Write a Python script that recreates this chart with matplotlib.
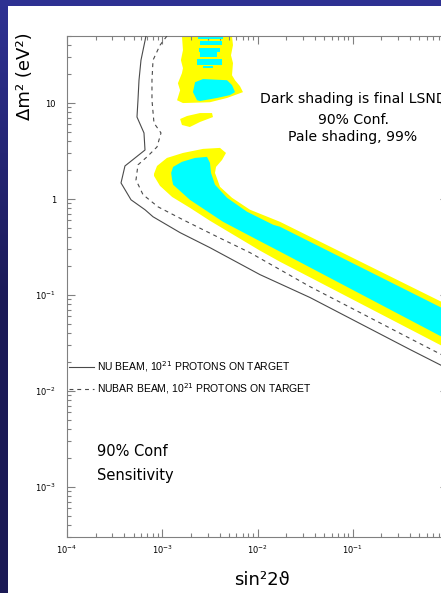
import numpy as np
import matplotlib
matplotlib.use("Agg")
import matplotlib.pyplot as plt
from matplotlib.patches import Rectangle
from matplotlib.colors import LinearSegmentedColormap
from matplotlib.lines import Line2D
from matplotlib.ticker import NullFormatter

# 90% CL sensitivity curves, (sin^2 2theta, dm^2 [eV^2])
nu_beam = [(6.75e-4, 50), (5.98e-4, 28.0), (5.70e-4, 17.3), (5.56e-4, 10.7),
           (5.43e-4, 7.15), (6.43e-4, 4.88), (6.59e-4, 3.24), (4.06e-4, 2.21),
           (3.69e-4, 1.47), (4.70e-4, 0.981), (6.59e-4, 0.773), (8.0e-4, 0.653),
           (1.54e-3, 0.446), (3.17e-3, 0.311), (1.06e-2, 0.163), (3.56e-2, 0.094),
           (0.119, 0.0504), (0.399, 0.027), (0.845, 0.0185), (1.0, 0.0169)]
nubar_beam = [(1.12e-3, 50), (9.47e-4, 40.1), (8.0e-4, 28.0), (7.8e-4, 17.3),
              (7.8e-4, 10.7), (8.19e-4, 6.19), (9.70e-4, 4.88), (8.81e-4, 3.49),
              (6.92e-4, 2.75), (5.56e-4, 2.27), (5.30e-4, 1.58), (6.28e-4, 1.11),
              (9.02e-4, 0.829), (1.65e-3, 0.608), (3.76e-3, 0.405), (8.34e-3, 0.276),
              (3.56e-2, 0.122), (0.119, 0.0656), (0.399, 0.0352), (0.845, 0.024),
              (1.0, 0.0218)]

# LSND allowed regions: 99% (pale) and 90% (dark)
band99 = [(8.19e-4, 1.83), (8.81e-4, 2.21), (1.12e-3, 2.68), (1.65e-3, 3.02),
          (2.68e-3, 3.33), (4.04e-3, 3.41), (4.67e-3, 3.02), (4.24e-3, 2.55),
          (3.67e-3, 2.16), (3.58e-3, 1.87), (4.04e-3, 1.34), (5.40e-3, 1.03),
          (8.34e-3, 0.773), (1.72e-2, 0.579), (0.845, 0.0853), (1.0, 0.078),
          (1.0, 0.0275), (0.845, 0.0298), (1.72e-2, 0.222), (1.06e-2, 0.290),
          (5.81e-3, 0.414), (3.17e-3, 0.593), (1.95e-3, 0.81), (1.27e-3, 1.05),
          (9.47e-4, 1.37), (8.19e-4, 1.74)]
band90 = [(1.24e-3, 1.87), (1.30e-3, 2.16), (1.61e-3, 2.44), (2.21e-3, 2.68),
          (2.95e-3, 2.75), (3.17e-3, 2.38), (3.25e-3, 1.87), (3.58e-3, 1.41),
          (4.79e-3, 1.03), (7.76e-3, 0.737), (1.46e-2, 0.539), (1.72e-2, 0.514),
          (0.845, 0.074), (1.0, 0.068), (1.0, 0.034), (0.845, 0.037),
          (1.72e-2, 0.283), (9.88e-3, 0.377), (4.34e-3, 0.579), (1.95e-3, 0.981),
          (1.30e-3, 1.41), (1.27e-3, 1.58)]
high99 = [(1.61e-3, 50), (1.65e-3, 35.6), (1.57e-3, 28.0), (1.65e-3, 23.1),
          (1.61e-3, 20.5), (1.46e-3, 16.1), (1.54e-3, 13.6), (1.43e-3, 10.7),
          (1.65e-3, 10.0), (3.17e-3, 10.2), (4.79e-3, 11.3), (7.04e-3, 13.0),
          (6.55e-3, 15.0), (5.81e-3, 17.3), (5.40e-3, 19.5), (5.53e-3, 26.1),
          (5.27e-3, 31.5), (5.53e-3, 40.1), (5.40e-3, 50)]
mid99 = [(1.54e-3, 6.82), (1.61e-3, 5.91), (1.95e-3, 5.63), (2.49e-3, 6.35),
         (3.41e-3, 7.15), (3.33e-3, 7.87), (2.49e-3, 7.87), (1.82e-3, 7.33)]
high90 = [(2.21e-3, 16.5), (2.68e-3, 17.8), (4.79e-3, 17.3), (5.40e-3, 15.4),
          (5.81e-3, 13.0), (5.14e-3, 12.1), (3.76e-3, 11.3), (2.49e-3, 10.5),
          (2.32e-3, 10.7), (2.10e-3, 13.0)]
# thin 90% strips at high dm^2: (s2t_lo, s2t_hi, dm2_lo, dm2_hi)
strips90 = [(2.37e-3, 4.34e-3, 46.3, 50.0), (2.49e-3, 4.24e-3, 40.1, 44.0),
            (2.43e-3, 4.04e-3, 33.9, 37.3), (2.49e-3, 3.76e-3, 30.1, 33.9),
            (2.32e-3, 4.24e-3, 24.9, 28.7), (2.68e-3, 3.41e-3, 23.1, 24.3)]

xticks = [1e-4, 1e-3, 1e-2, 1e-1]
xticklabels = [r"$10^{-4}$", r"$10^{-3}$", r"$10^{-2}$", r"$10^{-1}$"]
yticks = [1e-3, 1e-2, 1e-1, 1, 10]
yticklabels = [r"$10^{-3}$", r"$10^{-2}$", r"$10^{-1}$", "1", "10"]

YELLOW = "#ffff00"
CYAN = "#00ffff"
LINE = "#4a4a4a"
FRAME = "#808080"

W, H = 441, 593
fig = plt.figure(figsize=(W / 100, H / 100), dpi=100)
fig.patch.set_facecolor("white")

# blue slide border (top strip + shaded left strip)
fig.patches.append(Rectangle((0, 1 - 6 / H), 1, 6 / H, transform=fig.transFigure,
                             facecolor="#2e3192", edgecolor="none", zorder=0))
side = fig.add_axes([0, 0, 7.5 / W, 1 - 6 / H])
side.axis("off")
cmap = LinearSegmentedColormap.from_list("side", ["#2e3192", "#1c1b58", "#1b1a55"])
side.imshow(np.linspace(0, 1, 256)[:, None], aspect="auto", cmap=cmap,
            extent=(0, 1, 0, 1))

ax = fig.add_axes([67 / W, 56 / H, 381 / W, 501 / H])
ax.set_xscale("log")
ax.set_yscale("log")
ax.set_xlim(1e-4, 1)
ax.set_ylim(3e-4, 50)

for poly in [band99, high99, mid99]:
    x, y = np.array(poly).T
    ax.fill(x, y, color=YELLOW, lw=0, zorder=1)
for poly in [band90, high90]:
    x, y = np.array(poly).T
    ax.fill(x, y, color=CYAN, lw=0, zorder=2)
for lo, hi, ylo, yhi in strips90:
    ax.fill_between([lo, hi], ylo, yhi, color=CYAN, lw=0, zorder=2)

x, y = np.array(nu_beam).T
ax.plot(x, y, color=LINE, lw=0.8, zorder=3)
x, y = np.array(nubar_beam).T
ax.plot(x, y, color=LINE, lw=0.8, ls=(0, (3.5, 3.5)), zorder=3)

ax.set_xticks(xticks)
ax.set_xticklabels(xticklabels)
ax.set_yticks(yticks)
ax.set_yticklabels(yticklabels)
ax.xaxis.set_minor_formatter(NullFormatter())
ax.yaxis.set_minor_formatter(NullFormatter())
ax.tick_params(which="both", direction="in", top=True, right=True,
               color=FRAME, width=0.8, labelsize=6, labelcolor="black")
ax.tick_params(which="major", length=6)
ax.tick_params(which="minor", length=3)
ax.tick_params(axis="x", pad=5)
ax.tick_params(axis="y", pad=8)
for sp in ax.spines.values():
    sp.set_color(FRAME)
    sp.set_linewidth(0.8)

handles = [Line2D([], [], color=LINE, lw=0.8),
           Line2D([], [], color=LINE, lw=0.8, ls=(0, (3.5, 3.5)))]
labels = [r"NU BEAM, 10$^{21}$ PROTONS ON TARGET",
          r"NUBAR BEAM, 10$^{21}$ PROTONS ON TARGET"]
ax.legend(handles, labels, loc="upper left", bbox_to_anchor=(0.005, 0.355),
          frameon=False, prop={"family": "Liberation Sans", "size": 7.5},
          handlelength=2.4, handletextpad=0.25, labelspacing=0.7,
          borderpad=0, borderaxespad=0)

ax.text(0.079, 0.17, "90% Conf", transform=ax.transAxes, fontsize=10.5,
        ha="left", va="center")
ax.text(0.079, 0.122, "Sensitivity", transform=ax.transAxes, fontsize=10.5,
        ha="left", va="center")

fig.text(353 / W, 1 - 99 / H, "Dark shading is final LSND", fontsize=10.1,
         ha="center", va="center")
fig.text(353 / W, 1 - 120 / H, "90% Conf.", fontsize=10.1, ha="center", va="center")
fig.text(353 / W, 1 - 137 / H, "Pale shading, 99%", fontsize=10.1,
         ha="center", va="center")

fig.text(25 / W, 1 - 76 / H, "Δm² (eV²)", fontsize=13, rotation=90,
         ha="center", va="center")
fig.text(262 / W, 1 - 580 / H, "sin²2ϑ", fontsize=13, ha="center", va="center")

fig.savefig("out.png", dpi=100)
